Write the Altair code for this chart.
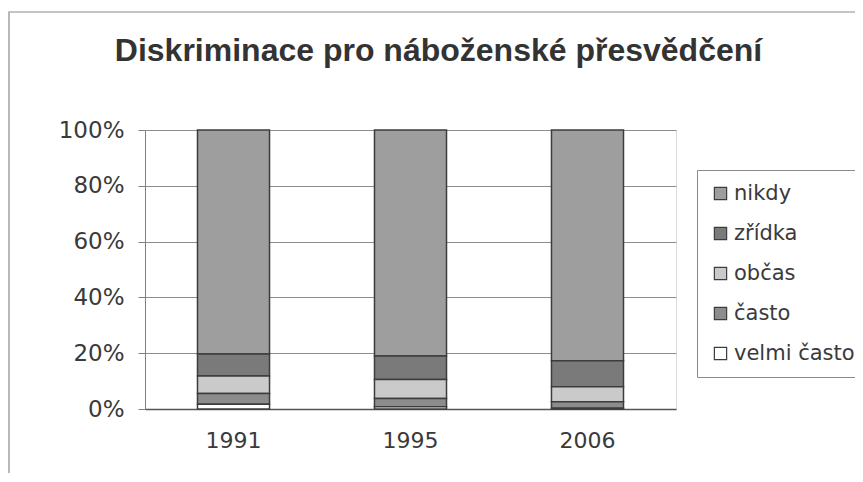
import altair as alt
import pandas as pd

years = ["1991", "1995", "2006"]
categories = ["nikdy", "zřídka", "občas", "často", "velmi často"]
# percentages per year, from bottom (velmi často) to top (nikdy)
velmi_casto = [1.7, 0.8, 0.3]
casto = [3.9, 3.0, 2.3]
obcas = [6.2, 6.8, 5.4]
zridka = [7.9, 8.4, 9.3]
nikdy = [80.3, 81.0, 82.7]
colors = ["#9e9e9e", "#7a7a7a", "#cacaca", "#8c8c8c", "#ffffff"]

series = {
    "nikdy": nikdy,
    "zřídka": zridka,
    "občas": obcas,
    "často": casto,
    "velmi často": velmi_casto,
}
rows = []
for cat, vals in series.items():
    for yr, v in zip(years, vals):
        rows.append({"rok": yr, "kategorie": cat, "hodnota": v,
                     "poradi": len(categories) - categories.index(cat)})
df = pd.DataFrame(rows)

frame = alt.Chart(alt.Data(values=[{}])).mark_rect(
    fill="white", fillOpacity=0, stroke="#8a8a8a", strokeWidth=1.2, clip=False
).encode(
    x=alt.value(-136), x2=alt.value(760), y=alt.value(-118), y2=alt.value(420)
)

bars = alt.Chart(df).mark_bar(stroke="#3c3c3c", strokeWidth=1.5).encode(
    x=alt.X("rok:N", title=None,
            scale=alt.Scale(paddingInner=0.593, paddingOuter=0.2966),
            axis=alt.Axis(labelAngle=0, labelFont="DejaVu Sans", labelFontSize=22,
                          labelColor="#3a3a3a", labelPadding=21, ticks=False,
                          domainColor="#555555", domainWidth=1.5)),
    y=alt.Y("hodnota:Q", stack="normalize", title=None,
            scale=alt.Scale(domain=[0, 1]),
            axis=alt.Axis(format="%", values=[0, 0.2, 0.4, 0.6, 0.8, 1.0],
                          labelFont="DejaVu Sans", labelFontSize=23,
                          labelColor="#3a3a3a", labelPadding=14,
                          tickSize=7, tickColor="#808080",
                          domainColor="#808080", gridColor="#8c8c8c")),
    color=alt.Color("kategorie:N",
                    scale=alt.Scale(domain=categories, range=colors),
                    legend=alt.Legend(title=None, orient="none", legendX=552, legendY=40,
                                      labelFont="DejaVu Sans", labelFontSize=21,
                                      labelColor="#3a3a3a", symbolType="square",
                                      symbolSize=150, symbolStrokeColor="#3c3c3c",
                                      symbolStrokeWidth=1.2, rowPadding=18,
                                      padding=13, labelOffset=3, strokeColor="#8a8a8a",
                                      labelLimit=300)),
    order=alt.Order("poradi:Q", sort="ascending"),
)

chart = alt.layer(frame, bars).properties(
    width=531,
    height=279,
    padding={"left": 137, "top": 122, "right": 179, "bottom": 64},
    autosize=alt.AutoSizeParams(type="none"),
    title=alt.TitleParams(
        "Diskriminace pro náboženské přesvědčení",
        font="Liberation Sans", fontSize=32, fontWeight="bold", color="#333333",
        anchor="middle", dx=28, offset=-82, baseline="alphabetic",
    ),
).configure_view(stroke="#808080", strokeWidth=1).configure(background="white")

chart.save("out.html", embed_options={"renderer": "svg", "actions": False})
